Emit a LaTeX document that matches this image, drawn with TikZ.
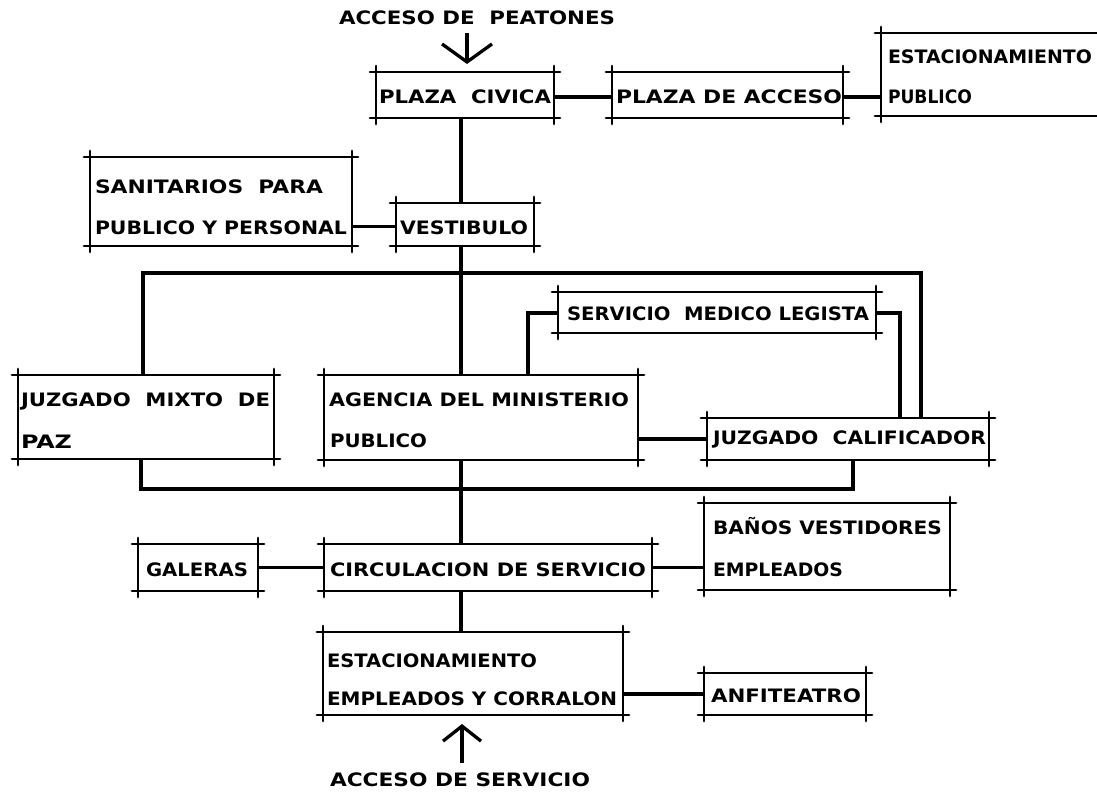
\documentclass[tikz,border=0pt]{standalone}
\usepackage{fontspec}
\setmainfont{DejaVu Sans}
\usepackage{graphicx}
\usetikzlibrary{arrows.meta,fit}

% stretch a lettering line to a given width, keeping its height
\newcommand\fitw[2]{\resizebox{#1pt}{\height}{#2}}

% box outline with overshooting corner lines, drafting style
\newcommand\roomframe[1]{%
  \draw[frame] ([xshift=-6pt]#1.north west) -- ([xshift=6pt]#1.north east);
  \draw[frame] ([xshift=-6pt]#1.south west) -- ([xshift=6pt]#1.south east);
  \draw[frame] ([yshift=6pt]#1.north west) -- ([yshift=-6pt]#1.south west);
  \draw[frame] ([yshift=6pt]#1.north east) -- ([yshift=-6pt]#1.south east);
}

\begin{document}
\begin{tikzpicture}[x=1pt,y=-1pt,
  frame/.style={line width=2.8pt, line cap=round},
  link/.style={line width=3.3pt},
  room/.style={inner sep=0pt, outer sep=0pt},
  lbl/.style={anchor=west, inner sep=0pt, outer sep=0pt,
              font=\bfseries\fontsize{18.5}{21}\selectfont}]

\fill[white] (0,0) rectangle (1097,792);
\useasboundingbox (0,0) rectangle (1097,792);

% ---------- rooms ----------
\node[room, fit={(376,72) (554,118)}] (pc) {};
\node[room, fit={(612,72) (843,118)}] (pa) {};
\node[room, fit={(881,33) (1110,116)}] (ep) {};
\node[room, fit={(90,157) (352,246)}] (san) {};
\node[room, fit={(396,203) (534,246)}] (ves) {};
\node[room, fit={(18,375) (274,459)}] (jmp) {};
\node[room, fit={(324,375) (638,460)}] (ag) {};
\node[room, fit={(558,292) (876,333)}] (sml) {};
\node[room, fit={(707,418) (989,460)}] (jc) {};
\node[room, fit={(138,544) (258,591)}] (gal) {};
\node[room, fit={(324,544) (652,591)}] (cs) {};
\node[room, fit={(704,503) (950,590)}] (bv) {};
\node[room, fit={(323,632) (623,715)}] (ee) {};
\node[room, fit={(704,673) (866,715)}] (anf) {};

\roomframe{pc}
\roomframe{pa}
\roomframe{san}
\roomframe{ves}
\roomframe{jmp}
\roomframe{ag}
\roomframe{sml}
\roomframe{jc}
\roomframe{gal}
\roomframe{cs}
\roomframe{bv}
\roomframe{ee}
\roomframe{anf}
% public parking runs off the sheet on the right
\draw[frame] ([xshift=-6pt]ep.north west) -- (ep.north east);
\draw[frame] ([xshift=-6pt]ep.south west) -- (ep.south east);
\draw[frame] ([yshift=6pt]ep.north west) -- ([yshift=-6pt]ep.south west);

% ---------- lettering ----------
\node[lbl] (peat) at (339,18) {\fitw{276}{ACCESO DE\ \ PEATONES}};
\node[lbl] (pc-l) at (379,97) {\fitw{172}{PLAZA\ \ CIVICA}};
\node[lbl] (pa-l) at (616,97) {\fitw{226}{PLAZA DE ACCESO}};
\node[lbl] (ep-l1) at (888,57) {\fitw{204}{ESTACIONAMIENTO}};
\node[lbl] (ep-l2) at (888,97) {\fitw{84}{PUBLICO}};
\node[lbl] (san-l1) at (95,187) {\fitw{228}{SANITARIOS\ \ PARA}};
\node[lbl] (san-l2) at (95,228) {\fitw{252}{PUBLICO Y PERSONAL}};
\node[lbl] (ves-l) at (400,228) {\fitw{128}{VESTIBULO}};
\node[lbl] (jmp-l1) at (21,401) {\fitw{249}{JUZGADO\ \ MIXTO\ \ DE}};
\node[lbl] (jmp-l2) at (21,442) {\fitw{51}{PAZ}};
\node[lbl] (ag-l1) at (329,400) {\fitw{300}{AGENCIA DEL MINISTERIO}};
\node[lbl] (ag-l2) at (330,441) {\fitw{97}{PUBLICO}};
\node[lbl] (sml-l) at (567,314) {\fitw{302}{SERVICIO\ \ MEDICO LEGISTA}};
\node[lbl] (jc-l) at (713,439) {\fitw{273}{JUZGADO\ \ CALIFICADOR}};
\node[lbl] (gal-l) at (146,570) {\fitw{102}{GALERAS}};
\node[lbl] (cs-l) at (330,570) {\fitw{316}{CIRCULACION DE SERVICIO}};
\node[lbl] (bv-l1) at (713,526) {\fitw{229}{BAÑOS VESTIDORES}};
\node[lbl] (bv-l2) at (713,570) {\fitw{130}{EMPLEADOS}};
\node[lbl] (ee-l1) at (327,661) {\fitw{210}{ESTACIONAMIENTO}};
\node[lbl] (ee-l2) at (327,699) {\fitw{290}{EMPLEADOS Y CORRALON}};
\node[lbl] (anf-l) at (711,696) {\fitw{150}{ANFITEATRO}};
\node[lbl] (serv) at (330,780) {\fitw{260}{ACCESO DE SERVICIO}};

% ---------- routing points ----------
\coordinate (jt)  at (461,273);
\coordinate (jtl) at (143,273);
\coordinate (jtr) at (921,273);
\coordinate (sl)  at (528,313);
\coordinate (sr)  at (900,313);
\coordinate (jbl) at (141,489);
\coordinate (jbr) at (853,489);
\coordinate (pin) at (467,33);
\coordinate (sin) at (462,763);

% ---------- connections ----------
\draw[link] ([yshift=-2pt]pc.east) -- ([yshift=-2pt]pa.west);
\draw[link] ([yshift=-2pt]pa.east) -- ([yshift=-2pt]pa.east -| ep.west);
\draw[link] (pc.south -| jt) -- (ves.north -| jt);
\draw[link] ([yshift=-2pt]ves.west) -- ([yshift=-2pt]ves.west -| san.east);
\draw[link] (ves.south -| jt) -- (ag.north -| jt);
\draw[link] (jmp.north -| jtl) -- (jtl) -- (jtr) -- (jc.north -| jtr);
\draw[link] (ag.north -| sl) -- (sl) -- (sml.west |- sl);
\draw[link] (sml.east |- sr) -- (sr) -- (jc.north -| sr);
\draw[link] (jc.west -| ag.east) -- (jc.west);
\draw[link] (jmp.south -| jbl) -- (jbl) -- (jbr) -- (jc.south -| jbr);
\draw[link] (ag.south -| jt) -- (cs.north -| jt);
\draw[link] (gal.east) -- (cs.west);
\draw[link] (cs.east) -- (cs.east -| bv.west);
\draw[link] (cs.south -| jt) -- (ee.north -| jt);
\draw[link] (anf.west -| ee.east) -- (anf.west);

% ---------- access arrows ----------
\draw[link, -{Straight Barb[length=18pt, width=50pt]}]
  (pin) -- ([yshift=8pt]pc.north -| pin);
\draw[link, -{Straight Barb[length=15pt, width=38pt]}]
  (sin) -- ([yshift=-9pt]ee.south -| sin);

\end{tikzpicture}
\end{document}
